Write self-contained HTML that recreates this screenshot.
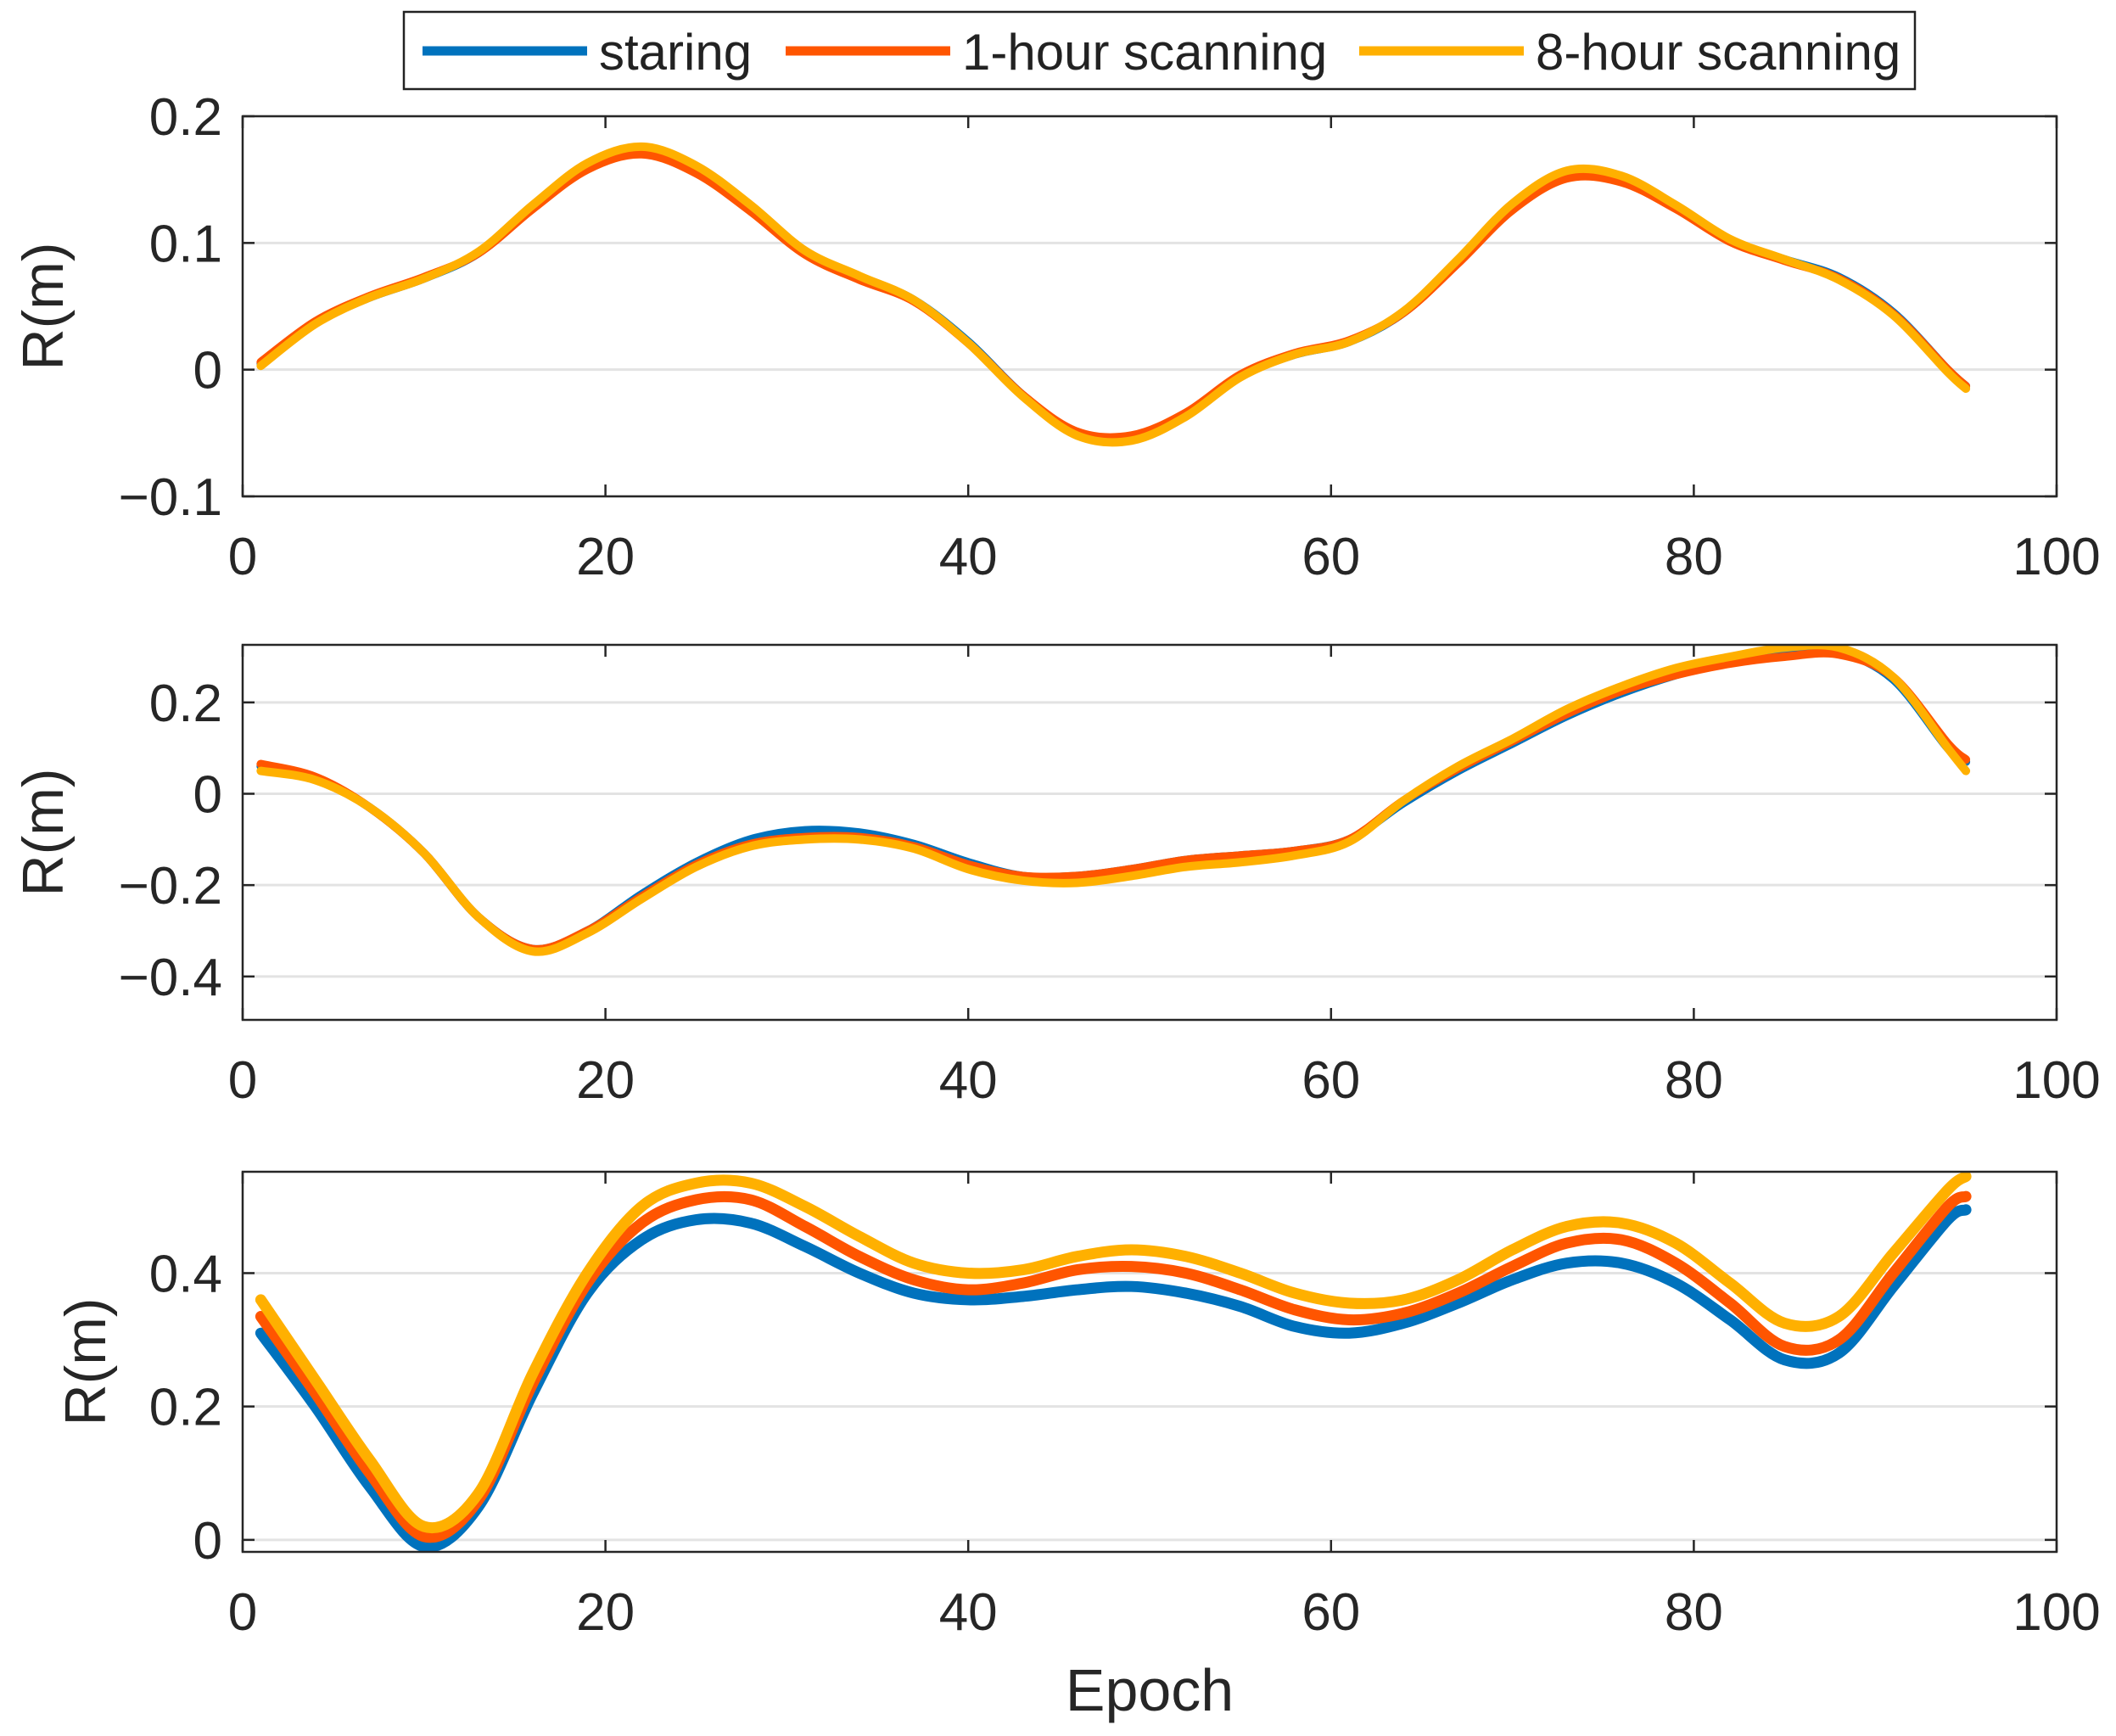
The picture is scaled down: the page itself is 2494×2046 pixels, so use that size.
<!DOCTYPE html>
<html><head><meta charset="utf-8"><style>
html,body{margin:0;padding:0;background:#fff;}
svg{display:block;font-family:"Liberation Sans",sans-serif;}
</style></head><body>
<svg id="chart" width="2494" height="2046" viewBox="0 0 2494 2046" xmlns="http://www.w3.org/2000/svg">
<rect width="2494" height="2046" fill="#fff"/>
<g id="legend">
<rect x="476" y="14" width="1781" height="91" fill="#fff" stroke="#222" stroke-width="2.5"/>
<line x1="498" y1="60" x2="692" y2="60" stroke="#0072BD" stroke-width="11"/>
<text x="706" y="82" font-size="60" fill="#222">staring</text>
<line x1="926" y1="60" x2="1120" y2="60" stroke="#FF5500" stroke-width="11"/>
<text x="1134" y="82" font-size="60" fill="#222">1-hour scanning</text>
<line x1="1602" y1="60" x2="1796" y2="60" stroke="#FFB000" stroke-width="11"/>
<text x="1810" y="82" font-size="60" fill="#222">8-hour scanning</text>
</g>
</svg>
<script>
const epochs=[1,4,7,10,13,16,19,22,25,28,31,34,37,40,43,46,49,52,55,58,61,64,67,70,73,76,79,82,85,88,91,94,95];
const p1Staring=[0.005,0.037,0.057,0.072,0.092,0.128,0.16,0.173,0.158,0.128,0.093,0.073,0.055,0.022,-0.02,-0.05,-0.053,-0.035,-0.005,0.012,0.022,0.045,0.085,0.128,0.153,0.15,0.128,0.102,0.087,0.073,0.045,0.0,-0.013];
const p1Hour1=[0.006,0.038,0.058,0.073,0.092,0.127,0.158,0.170,0.155,0.125,0.091,0.071,0.054,0.021,-0.02,-0.049,-0.052,-0.034,-0.004,0.013,0.023,0.045,0.084,0.126,0.151,0.148,0.127,0.101,0.086,0.072,0.044,0.0,-0.013];
const p1Hour8=[0.003,0.036,0.057,0.072,0.093,0.13,0.163,0.176,0.161,0.13,0.094,0.074,0.055,0.021,-0.021,-0.052,-0.056,-0.037,-0.006,0.012,0.022,0.046,0.087,0.131,0.157,0.153,0.13,0.103,0.087,0.071,0.043,-0.002,-0.015];
const p2Staring=[0.06,0.035,-0.03,-0.13,-0.27,-0.34,-0.3,-0.22,-0.15,-0.1,-0.08,-0.085,-0.11,-0.15,-0.18,-0.18,-0.165,-0.145,-0.135,-0.125,-0.1,-0.02,0.05,0.11,0.17,0.22,0.26,0.29,0.31,0.31,0.25,0.1,0.07];
const p2Hour1=[0.065,0.037,-0.03,-0.13,-0.27,-0.34,-0.3,-0.225,-0.155,-0.11,-0.095,-0.095,-0.115,-0.155,-0.18,-0.18,-0.165,-0.145,-0.135,-0.125,-0.1,-0.015,0.055,0.115,0.175,0.225,0.26,0.285,0.3,0.305,0.255,0.11,0.075];
const p2Hour8=[0.05,0.03,-0.03,-0.13,-0.27,-0.345,-0.305,-0.23,-0.16,-0.115,-0.1,-0.1,-0.12,-0.165,-0.19,-0.195,-0.18,-0.16,-0.15,-0.135,-0.105,-0.015,0.06,0.12,0.185,0.235,0.275,0.3,0.32,0.32,0.255,0.1,0.05];
const p3Staring=[0.31,0.2,0.08,-0.01,0.05,0.22,0.37,0.45,0.48,0.475,0.44,0.4,0.37,0.36,0.365,0.375,0.38,0.37,0.35,0.32,0.31,0.325,0.355,0.39,0.415,0.415,0.385,0.33,0.27,0.28,0.38,0.48,0.495];
const p3Hour1=[0.335,0.22,0.1,0.005,0.06,0.235,0.385,0.475,0.51,0.51,0.47,0.425,0.39,0.375,0.385,0.405,0.41,0.4,0.375,0.345,0.33,0.34,0.37,0.41,0.445,0.45,0.415,0.355,0.29,0.3,0.4,0.5,0.515];
const p3Hour8=[0.36,0.24,0.12,0.02,0.07,0.25,0.4,0.5,0.535,0.535,0.5,0.455,0.415,0.4,0.405,0.425,0.435,0.425,0.4,0.37,0.355,0.36,0.39,0.435,0.47,0.475,0.445,0.385,0.325,0.335,0.43,0.525,0.545];
const xTicks=[0,20,40,60,80,100];
const p1YTicks=[-0.1,0,0.1,0.2];
const p1YLabels=["\u22120.1","0","0.1","0.2"];
const p2YTicks=[-0.4,-0.2,0,0.2];
const p2YLabels=["\u22120.4","\u22120.2","0","0.2"];
const p3YTicks=[0,0.2,0.4];
const p3YLabels=["0","0.2","0.4"];
const colors=["#0072BD","#FF5500","#FFB000"];
const NS="http://www.w3.org/2000/svg";
const svg=document.getElementById('chart');
function mk(tag,attrs,parent){const e=document.createElementNS(NS,tag);for(const k in attrs)e.setAttribute(k,attrs[k]);(parent||svg).appendChild(e);return e;}
function smoothPath(pts){let d="M"+pts[0][0]+","+pts[0][1];for(let i=0;i<pts.length-1;i++){const p0=pts[Math.max(0,i-1)],p1=pts[i],p2=pts[i+1],p3=pts[Math.min(pts.length-1,i+2)];const c1x=p1[0]+(p2[0]-p0[0])/6,c1y=p1[1]+(p2[1]-p0[1])/6,c2x=p2[0]-(p3[0]-p1[0])/6,c2y=p2[1]-(p3[1]-p1[1])/6;d+=" C"+c1x+","+c1y+" "+c2x+","+c2y+" "+p2[0]+","+p2[1];}return d;}
const L=286,R=2424;
function panel(idx,top,bot,ymin,ymax,yt,ylabs,series,lw,ylabX){
  const g=mk('g',{});
  
  
  const xs=v=>L+(v-0)/(100-0)*(R-L);
  const ys=v=>bot-(v-ymin)/(ymax-ymin)*(bot-top);
  yt.forEach((t,i)=>{
    const gl=mk('line',{x1:L,x2:R,y1:ys(t),y2:ys(t),stroke:'#e3e3e3','stroke-width':3},g);
    
    
  });
  const cid='clip'+idx;
  const cp=mk('clipPath',{id:cid},g);mk('rect',{x:L,y:top,width:R-L,height:bot-top},cp);
  series.forEach((s,k)=>{
    const pts=epochs.map((e,i)=>[xs(e),ys(s[i])]);
    const p=mk('path',{d:smoothPath(pts),fill:'none',stroke:colors[k],'stroke-width':lw,'stroke-linejoin':'round','stroke-linecap':'round','clip-path':'url(#'+cid+')'},g);
    
    
  });
  const box=mk('rect',{x:L,y:top,width:R-L,height:bot-top,fill:'none',stroke:'#262626','stroke-width':2.5},g);
  
  
  xTicks.forEach(t=>{
    const x=xs(t);
    mk('line',{x1:x,x2:x,y1:bot,y2:bot-14,stroke:'#262626','stroke-width':2.5},g);
    mk('line',{x1:x,x2:x,y1:top,y2:top+14,stroke:'#262626','stroke-width':2.5},g);
    const tl=mk('text',{x:x,y:bot+92,'font-size':62,'text-anchor':'middle',fill:'#262626'},g);tl.textContent=t;
    
    
  });
  yt.forEach((t,i)=>{
    const y=ys(t);
    mk('line',{x1:L,x2:L+14,y1:y,y2:y,stroke:'#262626','stroke-width':2.5},g);
    mk('line',{x1:R,x2:R-14,y1:y,y2:y,stroke:'#262626','stroke-width':2.5},g);
    const tl=mk('text',{x:L-24,y:y+22,'font-size':62,'text-anchor':'end',fill:'#262626'},g);tl.textContent=ylabs[i];
    
    
  });
  const yl=mk('text',{x:ylabX,y:(top+bot)/2,'font-size':68,'text-anchor':'middle',fill:'#262626',transform:'rotate(-90 '+ylabX+' '+(top+bot)/2+')'},g);
  yl.textContent='R(m)';
  
  
}
panel(1,137,585,-0.1,0.2,p1YTicks,p1YLabels,[p1Staring,p1Hour1,p1Hour8],10,74);
panel(2,760,1202,-0.495,0.326,p2YTicks,p2YLabels,[p2Staring,p2Hour1,p2Hour8],10,74);
panel(3,1381,1829,-0.018,0.552,p3YTicks,p3YLabels,[p3Staring,p3Hour1,p3Hour8],13,124);
const xl=mk('text',{x:1355,y:2016,'font-size':70,'text-anchor':'middle',fill:'#262626'});
xl.textContent='Epoch';


</script>
</body></html>
